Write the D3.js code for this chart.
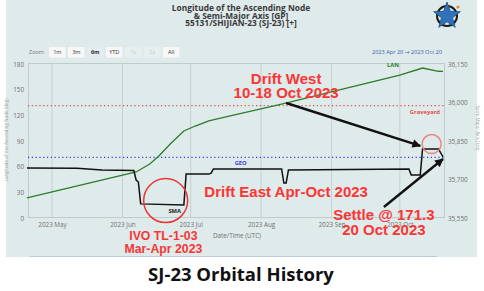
<!DOCTYPE html>
<html>
<head>
<meta charset="utf-8">
<script src="https://cdn.jsdelivr.net/npm/d3@7"></script>
<style>
  body { margin: 0; background: #fff; }
  svg { display: block; }
</style>
</head>
<body>
<div id="chart"></div>
<script>
// Semi-major axis (km), right axis
const smaDates = ["2023-04-20", "2023-05-12", "2023-05-23", "2023-06-06", "2023-06-07", "2023-06-08", "2023-06-09",
  "2023-06-28", "2023-06-29", "2023-07-09", "2023-07-10", "2023-07-11", "2023-08-10", "2023-08-11",
  "2023-08-12", "2023-08-13", "2023-10-05", "2023-10-06", "2023-10-10", "2023-10-11", "2023-10-18", "2023-10-20"];
const smaValues = [35745, 35744, 35737, 35735, 35698, 35690, 35605,
  35601, 35721, 35721, 35725, 35741, 35741, 35686,
  35686, 35737, 35741, 35718, 35718, 35819, 35819, 35788];

// Longitude of the ascending node (deg), left axis
const lanDates = ["2023-04-20", "2023-06-07", "2023-06-13", "2023-06-17", "2023-06-22", "2023-06-28", "2023-07-03",
  "2023-07-09", "2023-07-16", "2023-08-10", "2023-09-04", "2023-10-01", "2023-10-11", "2023-10-18", "2023-10-20"];
const lanValues = [23.4, 53.8, 63.1, 72.5, 86.5, 101.7, 107.5, 113.4, 118, 133.2, 149.6, 167.1, 175.3, 171.5, 171.3];

const geoKm = 35786;
const graveyardKm = 35988;

const leftTicks = [0, 30, 60, 90, 120, 150, 180];
const rightTicks = [35550, 35700, 35850, 36000, 36150];
const monthTicks = ["2023-05-01", "2023-06-01", "2023-07-01", "2023-08-01", "2023-09-01", "2023-10-01"];
const monthLabels = ["2023 May", "2023 Jun", "2023 Jul", "2023 Aug", "2023 Sep", "2023 Oct"];
const zoomButtons = ["1m", "3m", "6m", "YTD", "1y", "2y", "All"];

const titleLines = ["Longitude of the Ascending Node", "& Semi-Major Axis [GP]", "55131/SHIJIAN-23 (SJ-23) [+]"];

// red annotation text, placed at (date, deg)
const noteLines = [
  { text: "Drift West", date: "2023-08-12", deg: 157, size: 15 },
  { text: "10-18 Oct 2023", date: "2023-08-12", deg: 140, size: 15 },
  { text: "Drift East Apr-Oct 2023", date: "2023-08-12", deg: 24.5, size: 15 },
  { text: "IVO TL-1-03", date: "2023-06-19", deg: -25.7, size: 12.3 },
  { text: "Mar-Apr 2023", date: "2023-06-19", deg: -40.9, size: 12.3 },
  { text: "Settle @ 171.3", date: "2023-09-24", deg: -2.3, size: 15 },
  { text: "20 Oct 2023", date: "2023-09-24", deg: -19.9, size: 15 }
];
// arrows in (date, km)
const arrows = [
  { from: ["2023-08-12", 35998], to: ["2023-10-10", 35831] },
  { from: ["2023-09-24", 35593], to: ["2023-10-20", 35780] }
];
const rings = [
  { date: "2023-06-20", km: 35618, r: 22, color: "#ee3333", opacity: 1 },
  { date: "2023-10-15", km: 35838, r: 9.5, color: "#ef7b7b", opacity: 0.9 }
];

const W = 484, H = 291;
const plot = { left: 28, right: 444, top: 64, bottom: 218 };
const bg = "#dfeaea";
const red = "#fa3535";
const parse = d3.utcParse("%Y-%m-%d");

const svg = d3.select("#chart").append("svg")
    .attr("width", W)
    .attr("height", H)
    .style("font-family", "'Open Sans', 'DejaVu Sans', sans-serif");

svg.append("rect").attr("x", 6).attr("y", 0).attr("width", 471).attr("height", 257).attr("fill", bg);
svg.append("line").attr("x1", 30).attr("x2", 437).attr("y1", 256.5).attr("y2", 256.5)
    .attr("stroke", "#b9c9dc").attr("stroke-width", 1);

// Scales
const x = d3.scaleUtc()
    .domain([parse("2023-04-20"), parse("2023-10-20")])
    .range([27, 443]);
const yL = d3.scaleLinear().domain([0, 180]).range([plot.bottom, plot.top]);
const yR = d3.scaleLinear().domain([35550, 36150]).range([plot.bottom, plot.top]);

// Title
svg.append("g").selectAll("text")
    .data(titleLines)
    .join("text")
    .attr("x", 241)
    .attr("y", (d, i) => 10.8 + i * 7.7)
    .attr("text-anchor", "middle")
    .style("font-size", "8.4px")
    .style("font-weight", 700)
    .style("fill", "#3a3a3a")
    .text(d => d);

// Logo
const logo = svg.append("g").attr("transform", "translate(447,16)");
logo.append("circle").attr("r", 10).attr("fill", "none").attr("stroke", "#1b1b1b").attr("stroke-width", 2);
const starPts = d3.range(10).map(i => {
    const a = -Math.PI / 2 + i * Math.PI / 5;
    const r = i % 2 === 0 ? 14 : 5.8;
    return [r * Math.cos(a), r * Math.sin(a)];
});
logo.append("polygon").attr("points", starPts.map(p => p.join(",")).join(" "))
    .attr("fill", "#2f72ba").attr("stroke", "#1c4c86").attr("stroke-width", 0.8);
logo.append("circle").attr("cx", 11).attr("cy", -9).attr("r", 1.6).attr("fill", "#e38b34");

// Zoom buttons
svg.append("text").attr("x", 29).attr("y", 54.2).style("font-size", "5.5px").style("fill", "#777").text("Zoom");
const btn = svg.append("g").selectAll("g")
    .data(zoomButtons)
    .join("g")
    .attr("transform", (d, i) => `translate(${49 + i * 19},47)`);
btn.append("rect").attr("width", 16.5).attr("height", 10.5).attr("rx", 1)
    .attr("fill", d => d === "6m" ? "#e4ecf0" : (d === "1y" || d === "2y") ? "#e6eeee" : "#f7f7f7");
btn.append("text").attr("x", 8.25).attr("y", 7.3).attr("text-anchor", "middle")
    .style("font-size", "5.5px")
    .style("font-weight", d => d === "6m" ? 700 : 400)
    .style("fill", d => (d === "1y" || d === "2y") ? "#c4cccc" : "#333")
    .text(d => d);

svg.append("text").attr("x", 442).attr("y", 54.2).attr("text-anchor", "end")
    .style("font-size", "5.6px").style("fill", "#3b5fae")
    .text("2023 Apr 20  \u2192  2023 Oct 20");

// Grid + border
svg.append("g").selectAll("line")
    .data(monthTicks)
    .join("line")
    .attr("x1", d => x(parse(d))).attr("x2", d => x(parse(d)))
    .attr("y1", plot.top).attr("y2", plot.bottom)
    .attr("stroke", "#c6d0d0").attr("stroke-width", 1);
svg.append("rect")
    .attr("x", plot.left + 0.5).attr("y", plot.top - 0.5)
    .attr("width", plot.right - plot.left).attr("height", plot.bottom - plot.top)
    .attr("fill", "none").attr("stroke", "#c0cccc");

// Axes
const styleAxis = g => {
    g.select(".domain").remove();
    g.selectAll("text").style("font-size", "6.3px").style("fill", "#707070")
        .style("font-family", "'Open Sans', 'DejaVu Sans', sans-serif");
};
svg.append("g").attr("transform", `translate(${plot.left},0)`)
    .call(d3.axisLeft(yL).tickValues(leftTicks).tickSize(0).tickPadding(4))
    .call(styleAxis);
svg.append("g").attr("transform", `translate(${plot.right},0)`)
    .call(d3.axisRight(yR).tickValues(rightTicks).tickSize(0).tickPadding(4).tickFormat(d3.format(",")))
    .call(styleAxis);
svg.append("g").attr("transform", `translate(0,${plot.bottom})`)
    .call(d3.axisBottom(x).tickValues(monthTicks.map(parse)).tickSize(0).tickPadding(5)
        .tickFormat((d, i) => monthLabels[i]))
    .call(styleAxis);

svg.append("text").attr("x", 237).attr("y", 238).attr("text-anchor", "middle")
    .style("font-size", "6.3px").style("fill", "#707070").text("Date/Time (UTC)");
svg.append("text").attr("transform", "translate(8,140) rotate(-90)").attr("text-anchor", "middle")
    .style("font-size", "4.6px").style("fill", "#9aa4a4").text("Longitude of the Ascending Node (deg)");
svg.append("text").attr("transform", "translate(476,128) rotate(90)").attr("text-anchor", "middle")
    .style("font-size", "4.6px").style("fill", "#9aa4a4").text("Semi-Major Axis (km)");

// Reference lines
svg.append("line")
    .attr("x1", plot.left).attr("x2", plot.right)
    .attr("y1", yR(graveyardKm)).attr("y2", yR(graveyardKm))
    .attr("stroke", "#e84a4a").attr("stroke-width", 1.2).attr("stroke-dasharray", "1.2,2.6");
svg.append("line")
    .attr("x1", plot.left).attr("x2", plot.right)
    .attr("y1", yR(geoKm)).attr("y2", yR(geoKm))
    .attr("stroke", "#3a3ad8").attr("stroke-width", 1.2).attr("stroke-dasharray", "1.2,2.6");

// Series
const lanLine = d3.line().x(d => x(d[0])).y(d => yL(d[1]));
const smaLine = d3.line().x(d => x(d[0])).y(d => yR(d[1]));

svg.append("path")
    .attr("d", lanLine(lanDates.map((d, i) => [parse(d), lanValues[i]])))
    .attr("fill", "none").attr("stroke", "#2b7c2b").attr("stroke-width", 1.3);
svg.append("path")
    .attr("d", smaLine(smaDates.map((d, i) => [parse(d), smaValues[i]])))
    .attr("fill", "none").attr("stroke", "#111").attr("stroke-width", 1.5);

// Series labels
const lbl = (txt, xx, yy, col, anchor) => svg.append("text")
    .attr("x", xx).attr("y", yy).attr("text-anchor", anchor || "middle")
    .style("font-size", "5.8px").style("font-weight", 700).style("fill", col).text(txt);
lbl("Graveyard", plot.right - 4, yR(graveyardKm) + 8.5, "#e84a4a", "end");
lbl("GEO", x(parse("2023-07-23")), yR(geoKm) + 8, "#3a3ad8");
lbl("LAN", x(parse("2023-09-28")), yL(177), "#2b7c2b");
lbl("SMA", x(parse("2023-06-24")), yR(35601) + 8, "#222");

// Rings
svg.append("g").selectAll("circle")
    .data(rings)
    .join("circle")
    .attr("cx", d => x(parse(d.date)))
    .attr("cy", d => yR(d.km))
    .attr("r", d => d.r)
    .attr("fill", "none")
    .attr("stroke", d => d.color)
    .attr("stroke-opacity", d => d.opacity)
    .attr("stroke-width", 1.5);

// Arrows
svg.append("defs").append("marker")
    .attr("id", "head")
    .attr("viewBox", "0 0 10 10")
    .attr("refX", 9).attr("refY", 5)
    .attr("markerWidth", 4).attr("markerHeight", 3.6)
    .attr("markerUnits", "strokeWidth")
    .attr("orient", "auto")
    .append("path").attr("d", "M0,0 L10,5 L0,10 Z").attr("fill", "#111");

svg.append("g").selectAll("line")
    .data(arrows)
    .join("line")
    .attr("x1", d => x(parse(d.from[0]))).attr("y1", d => yR(d.from[1]))
    .attr("x2", d => x(parse(d.to[0]))).attr("y2", d => yR(d.to[1]))
    .attr("stroke", "#111").attr("stroke-width", 2.4)
    .attr("marker-end", "url(#head)");

// Red notes
svg.append("g").selectAll("text")
    .data(noteLines)
    .join("text")
    .attr("x", d => x(parse(d.date)))
    .attr("y", d => yL(d.deg))
    .attr("text-anchor", "middle")
    .style("font-family", "'Liberation Sans', Arial, sans-serif")
    .style("font-size", d => d.size + "px")
    .style("font-weight", 700)
    .style("fill", red)
    .text(d => d.text);

// Caption
svg.append("text").attr("x", 241).attr("y", 281).attr("text-anchor", "middle")
    .style("font-size", "18.5px").style("font-weight", 700).style("fill", "#111")
    .text("SJ-23 Orbital History");
</script>
</body>
</html>
